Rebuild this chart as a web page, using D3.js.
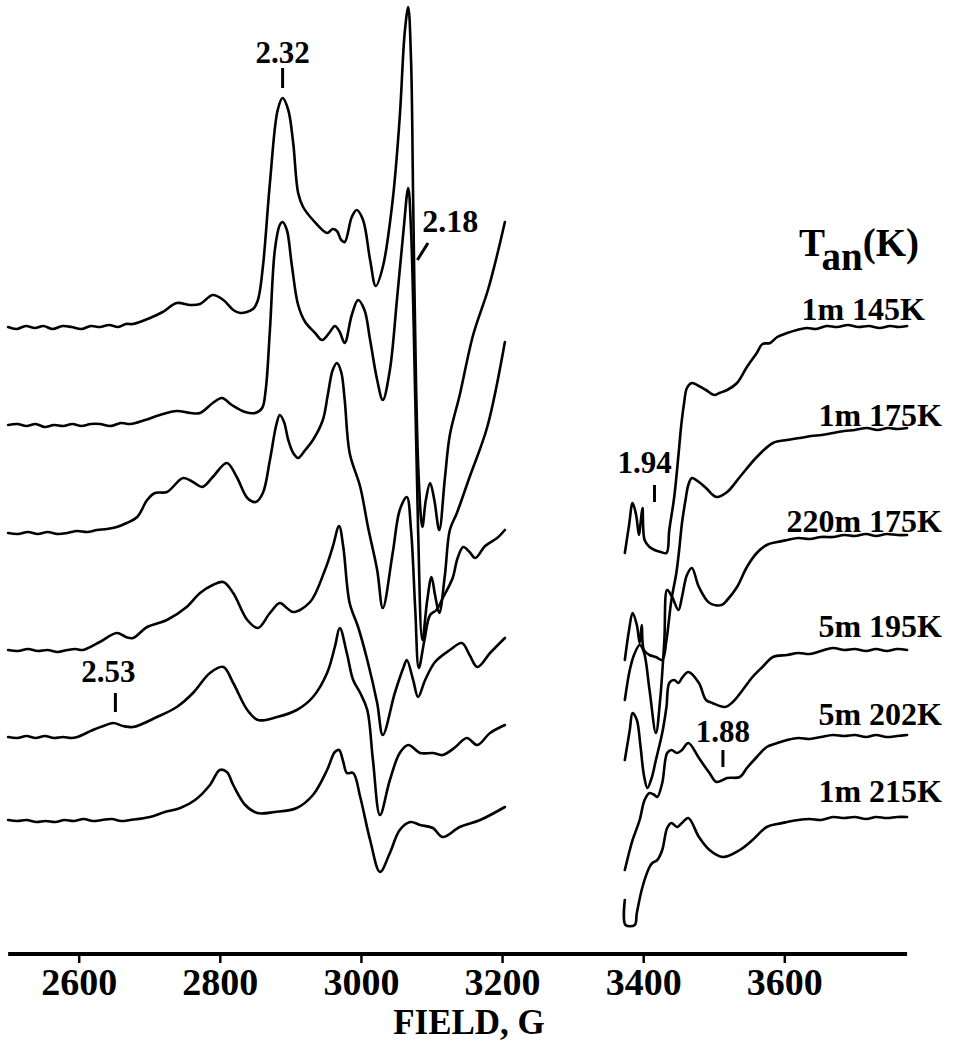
<!DOCTYPE html>
<html><head><meta charset="utf-8">
<script src="https://cdn.jsdelivr.net/npm/d3@7"></script>
<style>
html,body{margin:0;padding:0;background:#fff;}
svg text{font-family:"Liberation Serif","Times New Roman",serif;font-weight:bold;fill:#000;}
</style></head><body>
<svg id="chart" width="954" height="1043"></svg>
<script>
// ---------- data ----------
const tickValues = [2600, 2800, 3000, 3200, 3400, 3600];
const fieldRange = [2500, 3774];
const sampleLabels = ["1m 145K", "1m 175K", "220m 175K", "5m 195K", "5m 202K", "1m 215K"];
// vertical offsets of the stacked spectra (a.u.)
const baselines = [627, 529, 421, 304, 217, 134];

// each spectrum: [field (G), signal (a.u.)], low-field part and high-field part
const s1Low = [[2500,0],[2512,-2],[2525,1],[2538,-1],[2550,1],[2563,-2],[2577,1],[2590,0],[2604,-2],[2617,1],[2630,0],[2643,2],[2656,0],[2667,3],[2677,3],[2701,9],[2719,15],[2739,24],[2758,22],[2772,23],[2790,32],[2805,27],[2819,17],[2829,14],[2847,18],[2854,27],[2861,60],[2871,144],[2882,217],[2889,229],[2897,217],[2904,184],[2911,134],[2918,120],[2932,107],[2952,94],[2960,98],[2966,96],[2972,87],[2977,85],[2987,110],[2994,117],[3003,107],[3013,67],[3021,41],[3031,60],[3045,127],[3055,210],[3062,294],[3067,320],[3071,267],[3074,127],[3078,-53],[3082,-153],[3087,-200],[3092,-173],[3098,-156],[3104,-173],[3111,-203],[3119,-151],[3126,-108],[3140,-68],[3159,-8],[3180,37],[3193,72],[3204,105]];
const s1High = [[3374,-226],[3380,-198],[3385,-176],[3390,-188],[3394,-208],[3396,-198],[3399,-181],[3402,-213],[3409,-220],[3416,-223],[3425,-225],[3433,-226],[3437,-203],[3444,-170],[3450,-128],[3454,-98],[3458,-76],[3462,-61],[3469,-56],[3479,-59],[3489,-63],[3501,-68],[3508,-66],[3519,-63],[3533,-56],[3547,-40],[3561,-26],[3569,-17],[3580,-16],[3590,-10],[3604,-6],[3618,-3],[3632,-1],[3645,-2],[3660,1],[3675,0],[3690,2],[3705,0],[3720,1],[3735,-1],[3750,1],[3762,0],[3774,1]];

const s2Low = [[2500,0],[2513,1],[2526,-1],[2539,1],[2552,-2],[2565,0],[2578,-1],[2591,1],[2604,-1],[2617,1],[2630,1],[2645,-1],[2660,2],[2673,1],[2694,5],[2715,10],[2739,14],[2758,12],[2772,12],[2790,22],[2803,27],[2817,20],[2836,13],[2850,12],[2860,17],[2865,35],[2871,95],[2878,175],[2885,200],[2889,203],[2895,195],[2902,160],[2911,120],[2921,103],[2935,92],[2945,85],[2956,93],[2963,99],[2970,93],[2977,82],[2987,110],[2996,125],[3005,115],[3013,85],[3023,45],[3031,25],[3041,55],[3051,125],[3060,192],[3067,237],[3071,195],[3077,25],[3081,-105],[3087,-215],[3094,-175],[3100,-152],[3105,-170],[3111,-188],[3119,-150],[3126,-105],[3136,-88],[3154,-52],[3179,-2],[3204,83]];
const s2High = [[3374,-235],[3380,-205],[3385,-188],[3391,-200],[3395,-218],[3398,-200],[3401,-225],[3409,-230],[3418,-232],[3427,-235],[3433,-215],[3440,-175],[3447,-148],[3451,-125],[3455,-98],[3460,-75],[3464,-60],[3469,-53],[3479,-57],[3489,-63],[3504,-72],[3519,-67],[3537,-52],[3561,-32],[3584,-18],[3604,-15],[3622,-13],[3638,-11],[3653,-10],[3669,-8],[3685,-6],[3700,-5],[3717,-3],[3732,-5],[3747,-3],[3760,-4],[3774,-3]];

const s3Low = [[2500,0],[2514,-1],[2528,1],[2542,-1],[2556,1],[2570,-1],[2584,0],[2598,2],[2612,1],[2626,3],[2640,4],[2654,6],[2668,10],[2683,16],[2697,33],[2708,40],[2725,41],[2748,55],[2762,51],[2775,46],[2790,56],[2810,70],[2824,56],[2839,35],[2851,31],[2861,40],[2871,73],[2880,108],[2885,118],[2891,111],[2897,93],[2904,80],[2911,75],[2921,83],[2932,93],[2946,113],[2953,138],[2960,163],[2966,170],[2972,161],[2977,133],[2984,80],[2999,46],[3010,6],[3023,-37],[3031,-75],[3045,-20],[3055,23],[3065,36],[3071,3],[3077,-77],[3082,-135],[3090,-107],[3098,-82],[3107,-77],[3116,-65],[3130,-45],[3137,-25],[3145,-14],[3154,-19],[3162,-25],[3176,-13],[3193,-5],[3204,3]];
const s3High = [[3374,-167],[3381,-137],[3387,-122],[3395,-112],[3401,-119],[3409,-157],[3418,-200],[3424,-167],[3430,-107],[3434,-57],[3441,-64],[3450,-77],[3455,-64],[3462,-42],[3469,-35],[3479,-54],[3494,-70],[3511,-72],[3519,-67],[3533,-54],[3547,-34],[3561,-20],[3575,-12],[3590,-9],[3604,-7],[3620,-5],[3636,-6],[3652,-4],[3669,-4],[3685,-2],[3700,-3],[3716,-1],[3730,-3],[3745,-1],[3760,-2],[3774,-2]];

const s4Low = [[2500,0],[2514,-1],[2528,1],[2542,-1],[2556,0],[2570,-2],[2584,0],[2595,1],[2606,0],[2630,8],[2654,17],[2667,13],[2677,12],[2697,23],[2725,30],[2753,43],[2772,57],[2790,65],[2805,68],[2819,57],[2839,30],[2854,22],[2871,37],[2885,47],[2895,42],[2904,38],[2928,48],[2949,80],[2960,103],[2969,124],[2975,103],[2984,47],[2996,23],[3009,-10],[3023,-53],[3031,-85],[3048,-43],[3060,-18],[3065,-10],[3074,-30],[3081,-47],[3091,-30],[3105,-12],[3126,0],[3143,7],[3154,-5],[3165,-17],[3183,-3],[3204,12]];
const s4High = [[3374,-110],[3381,-80],[3385,-63],[3391,-70],[3396,-95],[3401,-125],[3406,-138],[3412,-128],[3418,-110],[3427,-83],[3433,-57],[3437,-33],[3444,-30],[3450,-33],[3455,-28],[3464,-22],[3479,-33],[3489,-50],[3498,-53],[3516,-57],[3527,-52],[3541,-40],[3555,-27],[3569,-17],[3584,-7],[3604,-5],[3620,-3],[3636,-4],[3652,-1],[3669,2],[3685,0],[3700,1],[3716,-1],[3730,1],[3745,-1],[3760,1],[3774,0]];

const s5Low = [[2500,0],[2513,-1],[2526,1],[2539,-1],[2552,1],[2565,-1],[2578,0],[2589,-1],[2598,0],[2620,7],[2635,11],[2649,14],[2663,11],[2677,10],[2711,20],[2739,30],[2762,44],[2786,64],[2805,70],[2819,54],[2839,27],[2854,17],[2881,20],[2909,27],[2932,40],[2952,64],[2963,90],[2970,109],[2980,84],[2989,57],[2999,44],[3009,27],[3017,-23],[3027,-78],[3041,-43],[3055,-16],[3067,-8],[3084,-16],[3102,-16],[3116,-18],[3134,-10],[3150,-1],[3165,-8],[3183,4],[3204,12]];
const s5High = [[3374,-133],[3381,-113],[3385,-103],[3395,-83],[3402,-63],[3409,-56],[3416,-58],[3420,-60],[3427,-46],[3434,-16],[3440,-13],[3448,-16],[3455,-13],[3464,-6],[3479,-21],[3494,-36],[3504,-45],[3519,-41],[3537,-40],[3547,-31],[3561,-20],[3575,-10],[3590,-6],[3604,-3],[3620,-1],[3636,-2],[3652,0],[3669,2],[3685,1],[3700,2],[3716,0],[3730,2],[3745,0],[3760,1],[3774,2]];

const s6Low = [[2500,0],[2513,-1],[2526,0],[2540,-2],[2553,-1],[2567,-2],[2580,0],[2593,-1],[2607,1],[2620,-1],[2633,0],[2647,1],[2660,-1],[2673,0],[2701,3],[2722,8],[2744,12],[2765,20],[2786,35],[2800,50],[2810,48],[2819,35],[2836,15],[2853,7],[2878,8],[2909,12],[2932,25],[2952,50],[2963,68],[2969,70],[2975,58],[2980,47],[2989,47],[2999,23],[3013,-20],[3027,-52],[3041,-33],[3055,-10],[3070,-2],[3084,-5],[3102,-8],[3116,-17],[3140,-7],[3169,0],[3204,13]];
const s6High = [[3374,-80],[3375,-105],[3388,-105],[3391,-93],[3399,-67],[3409,-47],[3413,-43],[3420,-40],[3427,-30],[3434,-8],[3440,-3],[3448,-7],[3455,-3],[3464,2],[3479,-17],[3494,-30],[3513,-37],[3537,-30],[3555,-20],[3575,-7],[3590,-4],[3604,-2],[3620,0],[3636,1],[3652,0],[3669,3],[3685,2],[3700,3],[3716,1],[3730,3],[3745,2],[3760,3],[3774,3]];

const spectra = [[s1Low,s1High],[s2Low,s2High],[s3Low,s3High],[s4Low,s4High],[s5Low,s5High],[s6Low,s6High]];

// g-value markers: label, field of tick, tick top/bottom (a.u.), label baseline (a.u.)
const gLabels   = ["2.32", "2.18", "2.53", "1.94", "1.88"];
const gFields   = [2889, 3080, 2652, 3416, 3513];
const gTickTop  = [886, 711, 261, 469, 204];
const gTickBot  = [866, 694, 242, 452, 187];
const gTextY    = [891, 722, 272, 481, 212];

// ---------- drawing ----------
const svg = d3.select("#chart");
const x = d3.scaleLinear().domain([2600, 3600]).range([78.7, 784.3]);
const y = d3.scaleLinear().domain([0, 954]).range([954, 0]);

const gTr = svg.append("g").attr("fill", "none").attr("stroke", "#000")
  .attr("stroke-width", 2.6).attr("stroke-linejoin", "round").attr("stroke-linecap", "round");

spectra.forEach((parts, i) => {
  const off = baselines[i];
  const line = d3.line()
    .x(d => x(d[0]))
    .y(d => y(off + d[1]))
    .curve(d3.curveCatmullRom.alpha(0.5));
  parts.forEach(p => gTr.append("path").attr("d", line(p)));
});

// axis
const axisY = y(0);
const axis = d3.axisBottom(x).tickValues(tickValues).tickSize(9).tickSizeOuter(0).tickPadding(5)
  .tickFormat(d3.format("d"));
const ga = svg.append("g").attr("transform", `translate(0,${axisY})`).call(axis);
ga.select(".domain").remove();
ga.selectAll(".tick line").attr("stroke", "#000").attr("stroke-width", 2.5);
ga.selectAll(".tick text").attr("font-size", 38).attr("fill", "#000")
  .style("font-family", '"Liberation Serif","Times New Roman",serif').style("font-weight", "bold");
svg.append("line").attr("x1", x(fieldRange[0])).attr("x2", x(fieldRange[1]))
  .attr("y1", axisY).attr("y2", axisY).attr("stroke", "#000").attr("stroke-width", 4);
svg.append("text").attr("x", 469).attr("y", 1034).attr("text-anchor", "middle")
  .attr("font-size", 35).text("FIELD, G");

// g markers
gLabels.forEach((t, i) => {
  const fx = x(gFields[i]);
  if (t === "2.18") {
    svg.append("line").attr("x1", fx).attr("y1", y(gTickBot[i])).attr("x2", x(gFields[i] + 15)).attr("y2", y(gTickTop[i]))
      .attr("stroke", "#000").attr("stroke-width", 3);
    svg.append("text").attr("x", x(3087)).attr("y", y(gTextY[i])).attr("font-size", 32).text(t);
  } else {
    svg.append("line").attr("x1", fx).attr("x2", fx).attr("y1", y(gTickTop[i])).attr("y2", y(gTickBot[i]))
      .attr("stroke", "#000").attr("stroke-width", 3);
    const cx = t === "2.53" ? x(2642) : (t === "1.94" ? x(3402) : fx);
    svg.append("text").attr("x", cx).attr("y", y(gTextY[i])).attr("text-anchor", "middle")
      .attr("font-size", 31).text(t);
  }
});

// legend title T_an(K)
const tt = svg.append("text").attr("x", 799).attr("y", 256).attr("font-size", 39);
tt.append("tspan").text("T");
tt.append("tspan").attr("dy", 14).text("an");
tt.append("tspan").attr("dy", -14).text("(K)");

// sample labels
const labX = [925, 942, 942, 942, 942, 942];
const labDy = [-7, 1, -1, -13, -12, -18];
sampleLabels.forEach((t, i) => {
  svg.append("text").attr("x", labX[i]).attr("y", y(baselines[i]) + labDy[i])
    .attr("text-anchor", "end").attr("font-size", 32).text(t);
});
</script>
</body></html>
